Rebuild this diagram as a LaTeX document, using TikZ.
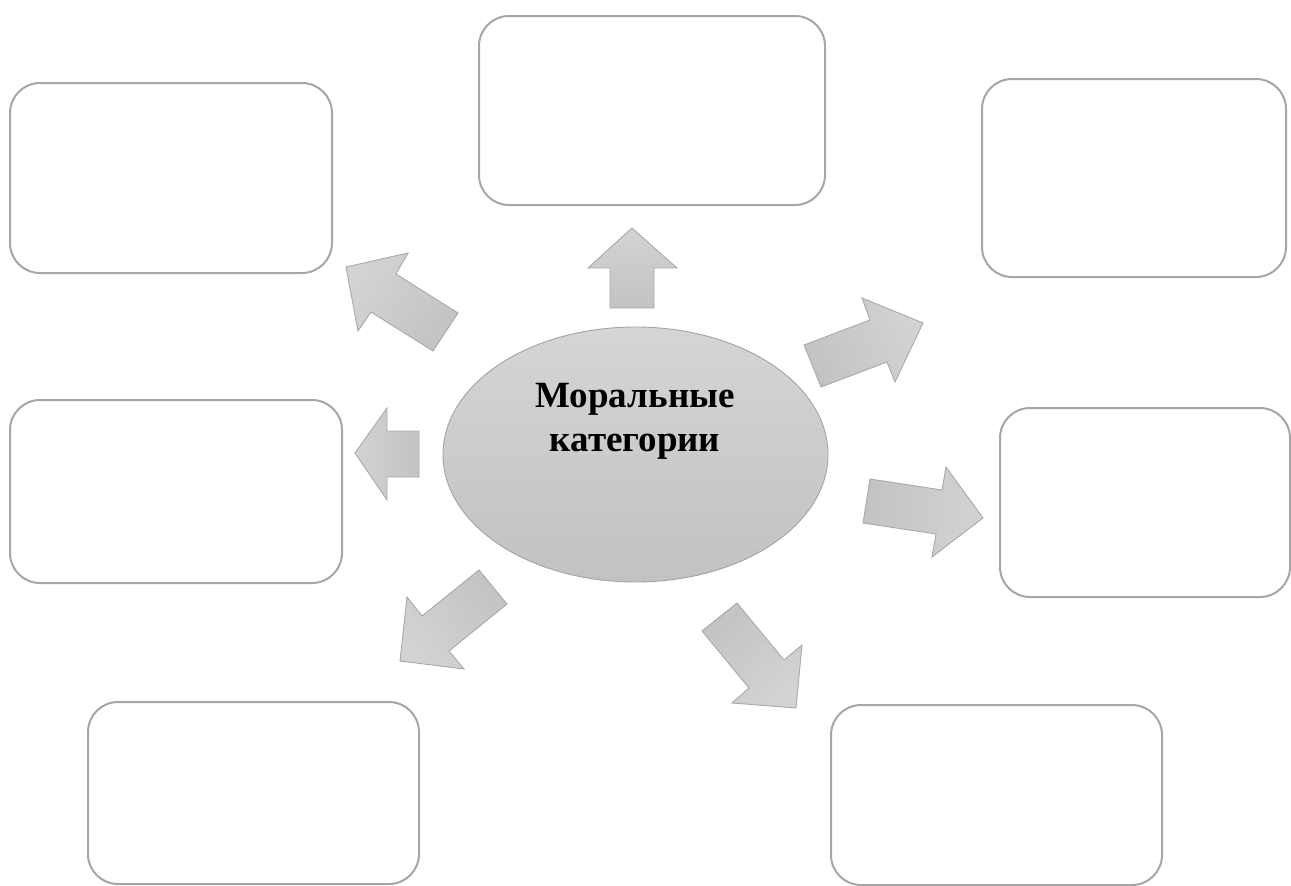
\documentclass[tikz,border=0pt]{standalone}
\usepackage{fontspec}
\setmainfont{Liberation Serif}
\usetikzlibrary{shapes.geometric}
\definecolor{boxline}{HTML}{A6A6A6}
\definecolor{arrline}{HTML}{A9A9A9}
\definecolor{arrlight}{HTML}{D3D3D3}
\definecolor{arrdark}{HTML}{C3C3C3}
\definecolor{elltop}{HTML}{D5D5D5}
\definecolor{ellbot}{HTML}{C2C2C2}
\definecolor{ellline}{HTML}{A3A3A3}
\tikzset{
  emptybox/.style={draw=boxline, line width=2pt, fill=white, rounded corners=30pt,
    inner sep=0pt, minimum width=#1},
  centreell/.style={ellipse, draw=ellline, line width=0.9pt, top color=elltop, bottom color=ellbot,
    inner sep=0pt, minimum width=385pt, minimum height=255pt},
  blockarrow/.style={draw=arrline, line width=0.9pt, top color=arrlight, bottom color=arrdark, shading angle=#1},
  title/.style={font=\bfseries\fontsize{37}{44}\selectfont, align=center, inner sep=0pt}
}
\begin{document}
\begin{tikzpicture}[x=1pt,y=-1pt]
\useasboundingbox (0,0) rectangle (1291,886);
% boxes
\node[emptybox=322pt, minimum height=190pt] (b1) at (171,178) {};
\node[emptybox=346pt, minimum height=189pt] (b2) at (652,110.5) {};
\node[emptybox=304pt, minimum height=198pt] (b3) at (1134,178) {};
\node[emptybox=332pt, minimum height=183pt] (b4) at (176,491.5) {};
\node[emptybox=290pt, minimum height=189pt] (b5) at (1145,502.5) {};
\node[emptybox=331pt, minimum height=182pt] (b6) at (253.5,793) {};
\node[emptybox=331pt, minimum height=180pt] (b7) at (996.5,795) {};
% centre
\node[centreell] (c) at (635.5,454.5) {};
\node[title] (t) at (635,421) {Моральные\\категории};
% block arrows
\draw[blockarrow=0] (610,308) -- (610,268) -- (588,268) -- (632,228) -- (677,268) -- (654,268) -- (654,308) -- cycle;
\draw[blockarrow=90] (419,431) -- (387,431) -- (387,408) -- (355,453) -- (387,500) -- (387,477) -- (419,477) -- cycle;
\draw[blockarrow=57] (458,313) -- (396,274) -- (408,253) -- (346,267) -- (358,331) -- (371,312) -- (433,351) -- cycle;
\draw[blockarrow=-69] (804,345) -- (870,320) -- (862,298) -- (923,323) -- (895,382) -- (887,362) -- (821,387) -- cycle;
\draw[blockarrow=-98] (870,479) -- (942,490) -- (946,467) -- (983,518) -- (932,557) -- (936,534) -- (863,523) -- cycle;
\draw[blockarrow=128] (479,570) -- (507,604) -- (449,651) -- (464,669) -- (400,661) -- (407,597) -- (422,616) -- cycle;
\draw[blockarrow=-140] (702,631) -- (737,603) -- (784,660) -- (802,645) -- (796,708) -- (732,703) -- (749,688) -- cycle;
\end{tikzpicture}
\end{document}
